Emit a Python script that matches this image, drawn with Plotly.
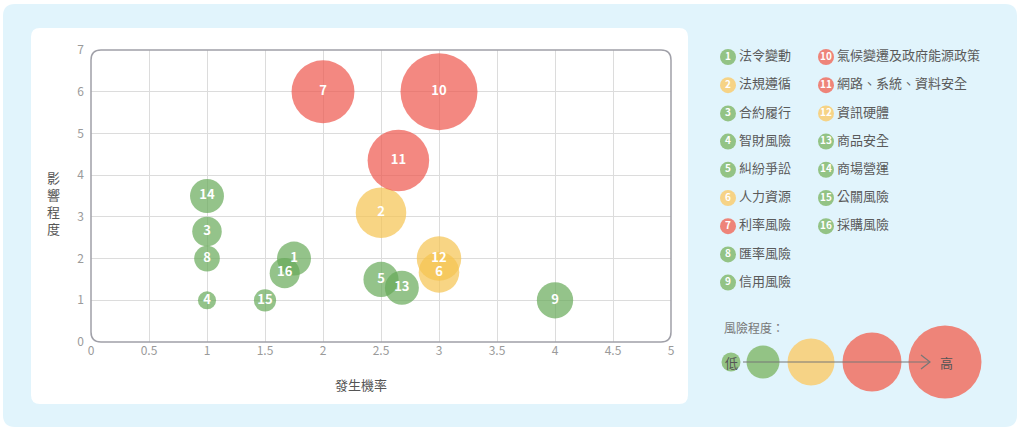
import plotly.graph_objects as go

# 風險資料
risk_ids = [str(i) for i in range(1, 17)]
risk_names = ["法令變動", "法規遵循", "合約履行", "智財風險", "糾紛爭訟", "人力資源",
              "利率風險", "匯率風險", "信用風險", "氣候變遷及政府能源政策",
              "網路、系統、資料安全", "資訊硬體", "商品安全", "商場營運",
              "公關風險", "採購風險"]
probability = [1.75, 2.5, 1.0, 1.0, 2.5, 3.0, 2.0, 1.0, 4.0, 3.0, 2.65, 3.0, 2.68, 1.0, 1.5, 1.67]
impact = [2.0, 3.1, 2.65, 1.0, 1.5, 1.67, 6.0, 2.0, 1.0, 6.0, 4.35, 2.0, 1.3, 3.5, 1.0, 1.65]
risk_score = [3.5, 7.75, 2.65, 1.0, 3.75, 5.0, 12.0, 2.0, 4.0, 18.0, 11.5, 6.0, 3.5, 3.5, 1.5, 2.75]
risk_level = ["low", "mid", "low", "low", "low", "mid", "high", "low", "low", "high",
              "high", "mid", "low", "low", "low", "low"]

x_ticks = [0, 0.5, 1, 1.5, 2, 2.5, 3, 3.5, 4, 4.5, 5]
y_ticks = [0, 1, 2, 3, 4, 5, 6, 7]

W, H = 1024, 433
FONT = "Noto Sans CJK TC"

bubble_col = {"low": "rgba(102,170,88,0.7)", "mid": "rgba(245,195,80,0.7)", "high": "rgba(238,85,75,0.7)"}
solid_col = {"low": "#93c385", "mid": "#f6d386", "high": "#ee8479"}

# 主圖區域 (像素)
PX0, PX1, PY0, PY1 = 91, 671, 50, 342


def rounded(x0, y0, x1, y1, r):
    # 像素座標 -> paper 座標的圓角矩形
    def p(x, y):
        return f"{x / W:.5f},{1 - y / H:.5f}"
    return (f"M {p(x0 + r, y0)} L {p(x1 - r, y0)} Q {p(x1, y0)} {p(x1, y0 + r)} "
            f"L {p(x1, y1 - r)} Q {p(x1, y1)} {p(x1 - r, y1)} L {p(x0 + r, y1)} "
            f"Q {p(x0, y1)} {p(x0, y1 - r)} L {p(x0, y0 + r)} Q {p(x0, y0)} {p(x0 + r, y0)} Z")


fig = go.Figure()

fig.add_trace(go.Scatter(
    x=probability, y=impact, mode="markers+text",
    text=risk_ids, textposition="middle center",
    textfont=dict(family=FONT, size=13, color="white", weight="bold"),
    marker=dict(size=risk_score, sizemode="area", sizeref=2 * max(risk_score) / 77 ** 2,
                color=[bubble_col[l] for l in risk_level], opacity=1, line=dict(width=0)),
    hoverinfo="skip", showlegend=False, cliponaxis=False,
))

# 圖例 (像素座標的覆蓋軸)
leg_x = [728 if i < 9 else 826 for i in range(16)]
leg_y = [57 + 28.2 * (i if i < 9 else i - 9) for i in range(16)]
fig.add_trace(go.Scatter(
    x=leg_x, y=leg_y, xaxis="x2", yaxis="y2", mode="markers+text",
    text=risk_ids, textposition="middle center",
    textfont=dict(family=FONT, size=10, color="white", weight="bold"),
    marker=dict(size=16, color=[solid_col[l] for l in risk_level], opacity=1, line=dict(width=0)),
    hoverinfo="skip", showlegend=False,
))
fig.add_trace(go.Scatter(
    x=[x + 11 for x in leg_x], y=leg_y, xaxis="x2", yaxis="y2", mode="text",
    text=risk_names, textposition="middle right",
    textfont=dict(family=FONT, size=13, color="#5a5a5a"),
    hoverinfo="skip", showlegend=False,
))

# 風險程度刻度
scale_x = [731, 763, 811, 872, 945]
scale_d = [19, 33, 47, 59, 73]
scale_lv = ["low", "low", "mid", "high", "high"]
fig.add_trace(go.Scatter(
    x=scale_x, y=[362] * 5, xaxis="x2", yaxis="y2", mode="markers",
    marker=dict(size=scale_d, color=[solid_col[l] for l in scale_lv], opacity=1, line=dict(width=0)),
    hoverinfo="skip", showlegend=False,
))

shapes = [
    dict(type="path", xref="paper", yref="paper", path=rounded(3, 4, 1017, 427, 12),
         fillcolor="#e1f4fc", line=dict(width=0), layer="below"),
    dict(type="path", xref="paper", yref="paper", path=rounded(31, 28, 688, 404, 9),
         fillcolor="white", line=dict(width=0), layer="below"),
    dict(type="path", xref="paper", yref="paper", path=rounded(PX0, PY0, PX1, PY1, 10),
         fillcolor="rgba(0,0,0,0)", line=dict(color="#a0a0a8", width=1.5), layer="above"),
    dict(type="line", xref="x2", yref="y2", x0=743, x1=930, y0=362, y1=362,
         line=dict(color="#777777", width=1.2)),
    dict(type="path", xref="x2", yref="y2", path="M 921,355 L 930,362 L 921,369",
         line=dict(color="#777777", width=1.2)),
]

annotations = [
    dict(x=722, y=327, xref="x2", yref="y2", text="風險程度：", showarrow=False,
         xanchor="left", font=dict(family=FONT, size=12, color="#777777")),
    dict(x=731, y=362, xref="x2", yref="y2", text="低", showarrow=False,
         font=dict(family=FONT, size=13, color="#555555")),
    dict(x=946, y=362, xref="x2", yref="y2", text="高", showarrow=False,
         font=dict(family=FONT, size=13, color="#555555")),
    dict(x=361, y=384, xref="x2", yref="y2", text="發生機率", showarrow=False,
         font=dict(family=FONT, size=13, color="#555555")),
    dict(x=53, y=203, xref="x2", yref="y2", text="影<br>響<br>程<br>度", showarrow=False,
         font=dict(family=FONT, size=13, color="#555555")),
]

fig.update_layout(
    width=W, height=H, margin=dict(l=0, r=0, t=0, b=0, autoexpand=False),
    paper_bgcolor="white", plot_bgcolor="rgba(0,0,0,0)",
    font=dict(family=FONT),
    xaxis=dict(domain=[PX0 / W, PX1 / W], range=[0, 5], tickvals=x_ticks,
               ticktext=[f"{v:g}" for v in x_ticks], showgrid=True, gridcolor="#dcdcdc",
               zeroline=False, showline=False, ticks="", automargin=False,
               tickfont=dict(family=FONT, size=12, color="#9a9a9a"), fixedrange=True),
    yaxis=dict(domain=[1 - PY1 / H, 1 - PY0 / H], range=[0, 7], tickvals=y_ticks,
               showgrid=True, gridcolor="#dcdcdc", zeroline=False, showline=False, ticks="",
               ticklabelstandoff=6, automargin=False,
               tickfont=dict(family=FONT, size=12, color="#9a9a9a"), fixedrange=True),
    xaxis2=dict(domain=[0, 1], range=[0, W], visible=False, anchor="y2",
                automargin=False, fixedrange=True),
    yaxis2=dict(domain=[0, 1], range=[H, 0], visible=False, anchor="x2",
                automargin=False, fixedrange=True),
    shapes=shapes, annotations=annotations,
)

fig.write_html("out.html", config={"displayModeBar": False},
               post_script="document.body.style.margin='0';")
